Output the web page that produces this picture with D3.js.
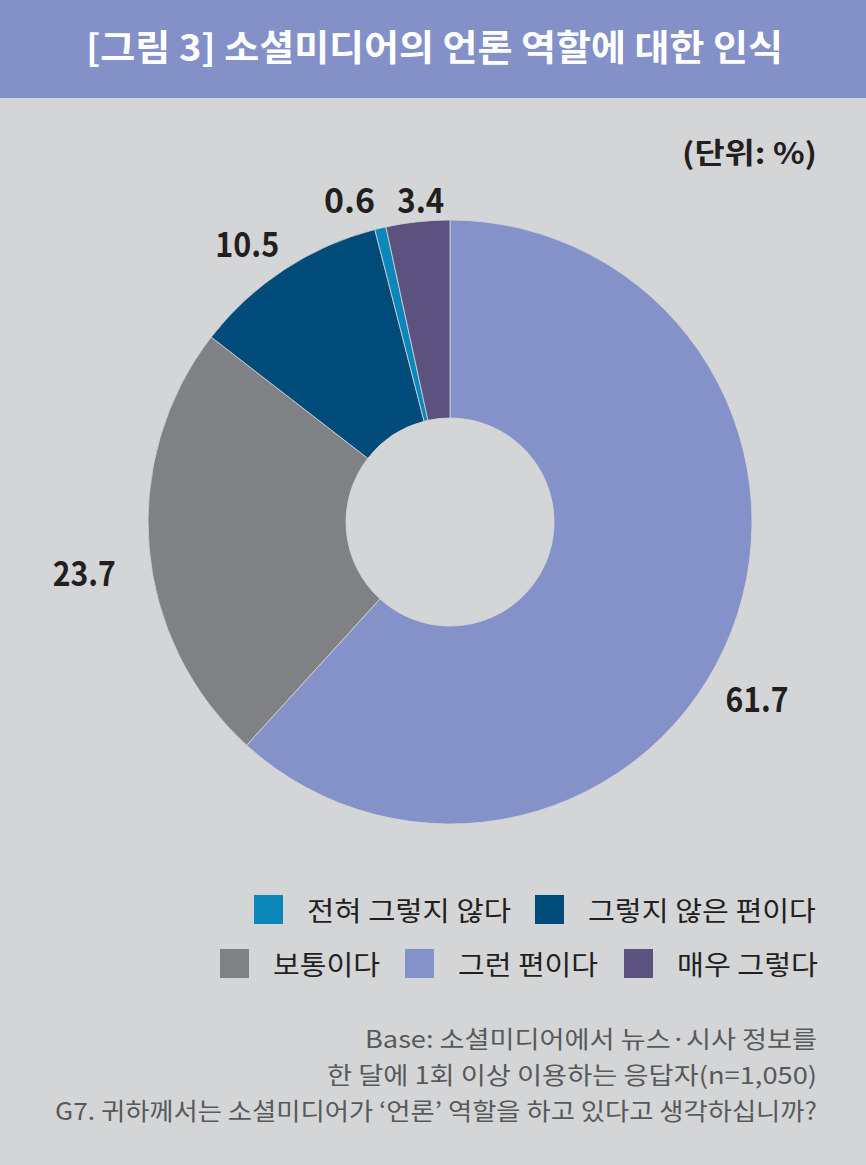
<!DOCTYPE html>
<html>
<head>
<meta charset="utf-8">
<script src="https://cdn.jsdelivr.net/npm/d3@7"></script>
<style>
  html, body { margin: 0; padding: 0; background: #d4d5d7; }
  svg { display: block; font-family: "Noto Sans CJK KR", "Noto Sans", sans-serif; }
</style>
</head>
<body>
<script>
const width = 866;
const height = 1165;

// data, in drawing order clockwise from 12 o'clock
const categories = ["그런 편이다", "보통이다", "그렇지 않은 편이다", "전혀 그렇지 않다", "매우 그렇다"];
const values = [61.7, 23.7, 10.5, 0.6, 3.4];
const colors = ["#8592c9", "#808184", "#004b7a", "#0b87b9", "#5c527f"];

// legend rows (as printed)
const legendRows = [
    ["전혀 그렇지 않다", "그렇지 않은 편이다"],
    ["보통이다", "그런 편이다", "매우 그렇다"]
];

const title = "[그림 3] 소셜미디어의 언론 역할에 대한 인식";
const unitLabel = "(단위: %)";
const notes = [
    "Base: 소셜미디어에서 뉴스·시사 정보를",
    "한 달에 1회 이상 이용하는 응답자(n=1,050)",
    "G7. 귀하께서는 소셜미디어가 ‘언론’ 역할을 하고 있다고 생각하십니까?"
];

// layout
const cx = 450, cy = 522, outerR = 302, innerR = 104;
const labelR = 340;
const labelNudge = { "그런 편이다": [-10, 55], "보통이다": [-27, 23], "그렇지 않은 편이다": [-16, 7],
                     "전혀 그렇지 않다": [-22, 10], "매우 그렇다": [7, 17] };
const labelWidth = { "그런 편이다": 63, "보통이다": 63, "그렇지 않은 편이다": 64, "전혀 그렇지 않다": 51, "매우 그렇다": 47 };
const legendX = { "전혀 그렇지 않다": 254, "그렇지 않은 편이다": 535, "보통이다": 220, "그런 편이다": 405, "매우 그렇다": 624 };
const legendTextW = { "전혀 그렇지 않다": 204, "그렇지 않은 편이다": 228, "보통이다": 107, "그런 편이다": 140, "매우 그렇다": 141 };
const noteW = [452, 490, 762];

const color = d3.scaleOrdinal().domain(categories).range(colors);

const svg = d3.select("body").append("svg")
    .attr("width", width)
    .attr("height", height);

svg.append("rect")
    .attr("width", width).attr("height", height)
    .attr("fill", "#d4d5d7");

// title bar
svg.append("rect")
    .attr("width", width).attr("height", 98)
    .attr("fill", "#8491c8");

svg.append("text")
    .attr("x", 434.5).attr("y", 61)
    .attr("text-anchor", "middle")
    .attr("font-size", 36)
    .attr("font-weight", 700)
    .attr("fill", "#ffffff")
    .attr("textLength", 697)
    .attr("lengthAdjust", "spacingAndGlyphs")
    .text(title);

svg.append("text")
    .attr("x", 817).attr("y", 164)
    .attr("text-anchor", "end")
    .attr("font-size", 29)
    .attr("font-weight", 700)
    .attr("fill", "#231f20")
    .attr("textLength", 135)
    .attr("lengthAdjust", "spacingAndGlyphs")
    .text(unitLabel);

// donut
const data = categories.map((c, i) => ({ category: c, value: values[i] }));

const pie = d3.pie()
    .sort(null)
    .value(d => d.value);

const arc = d3.arc()
    .innerRadius(innerR)
    .outerRadius(outerR);

const labelArc = d3.arc()
    .innerRadius(labelR)
    .outerRadius(labelR);

const arcs = pie(data);

const chart = svg.append("g")
    .attr("transform", `translate(${cx},${cy})`);

chart.selectAll("path")
    .data(arcs)
    .enter().append("path")
    .attr("d", arc)
    .attr("fill", d => color(d.data.category))
    .attr("stroke", "#d4d5d7")
    .attr("stroke-width", 0.8);

chart.selectAll("text.value")
    .data(arcs)
    .enter().append("text")
    .attr("class", "value")
    .attr("transform", d => {
        const [x, y] = labelArc.centroid(d);
        const [nx, ny] = labelNudge[d.data.category];
        return `translate(${x + nx},${y + ny + 12})`;
    })
    .attr("text-anchor", "middle")
    .attr("font-size", 34)
    .attr("font-weight", 700)
    .attr("fill", "#231f20")
    .attr("textLength", d => labelWidth[d.data.category])
    .attr("lengthAdjust", "spacingAndGlyphs")
    .text(d => d3.format(".1f")(d.data.value));

// legend
const legend = svg.append("g").attr("class", "legend");
legendRows.forEach((row, r) => {
    const y = 895 + r * 54;
    const item = legend.selectAll(null)
        .data(row)
        .enter().append("g")
        .attr("transform", d => `translate(${legendX[d]},${y})`);
    item.append("rect")
        .attr("width", 29).attr("height", 29)
        .attr("fill", d => color(d));
    item.append("text")
        .attr("x", 53).attr("y", 26)
        .attr("font-size", 27)
        .attr("fill", "#231f20")
        .attr("textLength", d => legendTextW[d])
        .attr("lengthAdjust", "spacingAndGlyphs")
        .text(d => d);
});

// notes
svg.append("g")
    .selectAll("text")
    .data(notes)
    .enter().append("text")
    .attr("x", 817)
    .attr("y", (d, i) => 1048 + i * 36)
    .attr("text-anchor", "end")
    .attr("font-size", 24)
    .attr("fill", "#58595b")
    .attr("textLength", (d, i) => noteW[i])
    .attr("lengthAdjust", "spacingAndGlyphs")
    .text(d => d);
</script>
</body>
</html>
